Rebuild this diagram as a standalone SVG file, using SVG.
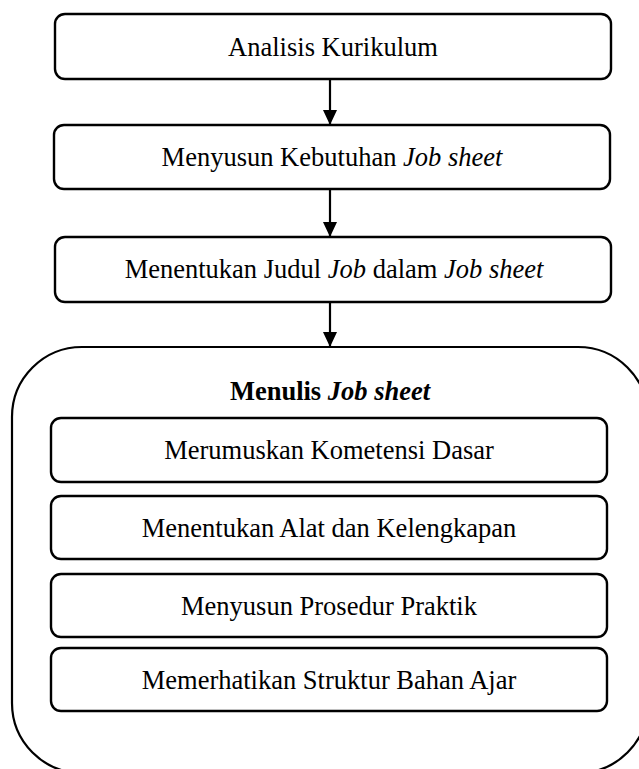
<svg xmlns="http://www.w3.org/2000/svg" width="639" height="769" viewBox="0 0 639 769">
<defs>
<style>
.box{fill:#fff;stroke:#000;stroke-width:2.4}
.cont{fill:#fff;stroke:#000;stroke-width:2.2}
.t{font-family:"Liberation Serif","Times New Roman",serif;font-size:26.5px;fill:#000;text-anchor:middle}
.b{font-weight:bold}
.i{font-style:italic}
.edge{stroke:#000;stroke-width:2.2;fill:none}
</style>
<marker id="ah" viewBox="0 0 15 14" refX="15" refY="7" markerWidth="15" markerHeight="14" markerUnits="userSpaceOnUse" orient="auto">
<path d="M0,0 L15,7 L0,14 Z" fill="#000"/>
</marker>
</defs>
<g id="connectors">
<line class="edge" x1="330" y1="79" x2="330" y2="125" marker-end="url(#ah)"/>
<line class="edge" x1="330" y1="189" x2="330" y2="237" marker-end="url(#ah)"/>
<line class="edge" x1="330" y1="302" x2="330" y2="347" marker-end="url(#ah)"/>
</g>
<g id="n1">
<rect class="box" x="55" y="14" width="556" height="65" rx="10"/>
<text class="t" x="333" y="56">Analisis Kurikulum</text>
</g>
<g id="n2">
<rect class="box" x="54" y="125" width="556" height="64" rx="10"/>
<text class="t" x="332" y="166">Menyusun Kebutuhan <tspan class="i">Job sheet</tspan></text>
</g>
<g id="n3">
<rect class="box" x="55" y="237" width="556" height="65" rx="10"/>
<text class="t" x="334" y="278">Menentukan Judul <tspan class="i">Job</tspan> dalam <tspan class="i">Job sheet</tspan></text>
</g>
<g id="n4">
<rect class="cont" x="12" y="347" width="636" height="426" rx="70"/>
<text class="t b" x="330" y="400">Menulis <tspan class="i">Job sheet</tspan></text>
</g>
<g id="n5">
<rect class="box" x="51" y="418" width="556" height="64" rx="10"/>
<text class="t" x="329" y="459">Merumuskan Kometensi Dasar</text>
</g>
<g id="n6">
<rect class="box" x="51" y="496" width="556" height="63" rx="10"/>
<text class="t" x="329" y="537">Menentukan Alat dan Kelengkapan</text>
</g>
<g id="n7">
<rect class="box" x="51" y="574" width="556" height="63" rx="10"/>
<text class="t" x="329" y="615">Menyusun Prosedur Praktik</text>
</g>
<g id="n8">
<rect class="box" x="51" y="648" width="556" height="63" rx="10"/>
<text class="t" x="329" y="689">Memerhatikan Struktur Bahan Ajar</text>
</g>
</svg>
